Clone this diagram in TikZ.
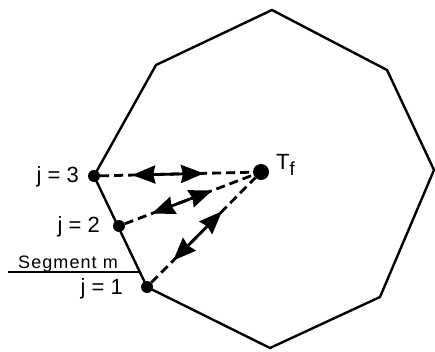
\documentclass[tikz,border=0pt]{standalone}
\usepackage{fontspec}
\setmainfont{Liberation Sans}
\usetikzlibrary{arrows.meta}
\begin{document}
\begin{tikzpicture}[x=1pt,y=-1pt,
  outline/.style={line width=2.4pt, line join=miter},
  dot/.style={circle, fill=black, inner sep=0pt, minimum size=12pt},
  bigdot/.style={circle, fill=black, inner sep=0pt, minimum size=16pt},
  ray/.style={line width=2.8pt, dash pattern=on 9pt off 5pt},
  twohead/.style={line width=2.8pt, {Stealth[length=23pt,width=18pt,inset=2pt]}-{Stealth[length=23pt,width=18pt,inset=2pt]}},
  lbl/.style={font=\fontsize{22}{24}\selectfont, inner sep=0pt},
  seglbl/.style={font=\fontsize{18}{20}\selectfont\addfontfeature{LetterSpace=6}, inner sep=0pt}]
\useasboundingbox (0,0) rectangle (435,352);
% octagon vertices
\coordinate (v1) at (272,10);
\coordinate (v2) at (387,70);
\coordinate (v3) at (434,170);
\coordinate (v4) at (380,297);
\coordinate (v5) at (270,348);
\coordinate (p1) at (147,287);
\coordinate (p3) at (94,176);
\coordinate (v8) at (156,65);
\draw[outline] (v1)--(v2)--(v3)--(v4)--(v5)--(p1)--(p3)--(v8)--cycle;
% points
\node[dot] (j1) at (p1) {};
\node[dot] (j3) at (p3) {};
\node[dot] (j2) at (119,226) {};
\node[bigdot] (tf) at (261,172) {};
% rays
\foreach \s in {j1,j2,j3}{
  \draw[ray] (\s) -- (tf);
  \path (\s) -- (tf) coordinate[pos=0.21] (\s a) coordinate[pos=0.68] (\s b);
  \draw[twohead] (\s a) -- (\s b);
}
% labels
\node[lbl, anchor=east] (l3) at (79,177) {j = 3};
\node[lbl, anchor=east] (l2) at (100,227) {j = 2};
\node[lbl, anchor=east] (l1) at (123,289) {j = 1};
\node[lbl, anchor=west] (lt) at (276,165) {T\raisebox{-0.3em}{\fontsize{19}{20}\selectfont f}};
% segment m
\coordinate (s0) at (8,272);
\coordinate (s1) at (139,272);
\draw[line width=1.8pt] (s0) -- (s1);
\node[seglbl, anchor=base west] (sm) at (18,268) {Segment m};
\end{tikzpicture}
\end{document}
